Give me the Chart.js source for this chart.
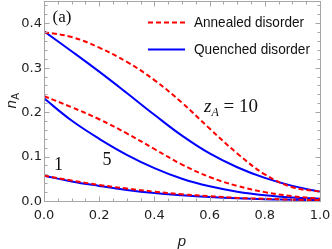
<!DOCTYPE html>
<html>
<head>
<meta charset="utf-8">
<script src="https://cdn.jsdelivr.net/npm/chart.js@4/dist/chart.umd.min.js"></script>
<style>
html,body{margin:0;padding:0;background:#fff;}
#c{display:block;}
</style>
</head>
<body>
<canvas id="c" width="332" height="249"></canvas>
<script>
// ---- data ----
const pValues   = [0, 0.1, 0.2, 0.3, 0.4, 0.5, 0.6, 0.7, 0.8, 0.9, 1.0];
const annealed10 = [0.380, 0.369, 0.345, 0.313, 0.272, 0.221, 0.163, 0.107, 0.060, 0.031, 0.021];
const quenched10 = [0.382, 0.337, 0.291, 0.243, 0.194, 0.147, 0.107, 0.076, 0.052, 0.034, 0.021];
const annealed5  = [0.236, 0.211, 0.184, 0.152, 0.117, 0.082, 0.054, 0.034, 0.020, 0.011, 0.005];
const quenched5  = [0.231, 0.181, 0.140, 0.104, 0.074, 0.050, 0.033, 0.021, 0.013, 0.008, 0.005];
const annealed1  = [0.057, 0.046, 0.036, 0.028, 0.021, 0.015, 0.011, 0.007, 0.005, 0.003, 0.002];
const quenched1  = [0.057, 0.044, 0.034, 0.025, 0.018, 0.013, 0.009, 0.006, 0.004, 0.003, 0.002];

const xMajorTicks = [0, 0.2, 0.4, 0.6, 0.8, 1.0];
const yMajorTicks = [0, 0.1, 0.2, 0.3, 0.4];
const xTickLabels = ['0.0', '0.2', '0.4', '0.6', '0.8', '1.0'];
const yTickLabels = ['0.0', '0.1', '0.2', '0.3', '0.4'];
const xMinorStep = 0.05;
const yMinorStep = 0.02;

const legendLabels = ['Annealed disorder', 'Quenched disorder'];
const curveLabels = [
  {text: '1', p: 0.0525, v: 0.081},
  {text: '5', p: 0.228, v: 0.092}
];
const zLabel = {p: 0.58, v: 0.201};

const RED = 'rgb(255,0,0)';
const BLUE = 'rgb(0,0,255)';

function pts(arr){ return pValues.map((p,i)=>({x:p, y:arr[i]})); }

function redSet(label, arr){
  return {label, data: pts(arr), borderColor: RED, backgroundColor: RED,
    borderWidth: 2, borderDash: [5,3], pointRadius: 0, tension: 0.4, fill:false};
}
function blueSet(label, arr){
  return {label, data: pts(arr), borderColor: BLUE, backgroundColor: BLUE,
    borderWidth: 2, pointRadius: 0, tension: 0.4, fill:false};
}

const framePlugin = {
  id: 'mmaFrame',
  afterDraw(chart){
    const ctx = chart.ctx;
    const a = chart.chartArea;
    const xs = chart.scales.x, ys = chart.scales.y;
    const L = a.left + 0.5, R = a.right + 0.5, T = a.top + 0.5, B = a.bottom + 0.5;
    ctx.save();
    // frame
    ctx.strokeStyle = '#a6a6a6';
    ctx.lineWidth = 1;
    ctx.strokeRect(L, T, R - L, B - T);
    // ticks
    ctx.beginPath();
    const eps = 1e-9;
    for (let v = 0; v <= 1 + eps; v += xMinorStep){
      const major = xMajorTicks.some(t => Math.abs(t - v) < 1e-6);
      const len = major ? 5 : 3;
      const px = Math.round(xs.getPixelForValue(v)) + 0.5;
      ctx.moveTo(px, B); ctx.lineTo(px, B - len);
      ctx.moveTo(px, T); ctx.lineTo(px, T + len);
    }
    for (let v = 0; v <= 0.45 + eps; v += yMinorStep){
      const major = yMajorTicks.some(t => Math.abs(t - v) < 1e-6);
      const len = major ? 5 : 3;
      const py = Math.round(ys.getPixelForValue(v)) + 0.5;
      ctx.moveTo(L, py); ctx.lineTo(L + len, py);
      ctx.moveTo(R, py); ctx.lineTo(R - len, py);
    }
    ctx.stroke();

    // tick labels
    ctx.fillStyle = '#222';
    ctx.font = '13px "DejaVu Sans"';
    ctx.textAlign = 'center';
    ctx.textBaseline = 'middle';
    xMajorTicks.forEach((v,i)=>{
      ctx.fillText(xTickLabels[i], xs.getPixelForValue(v), a.bottom + 15);
    });
    ctx.textAlign = 'right';
    yMajorTicks.forEach((v,i)=>{
      ctx.fillText(yTickLabels[i], a.left - 2, ys.getPixelForValue(v) + 0.5);
    });

    // axis titles
    ctx.fillStyle = '#222';
    ctx.textAlign = 'center';
    ctx.font = 'italic 15px "Liberation Sans"';
    ctx.fillText('p', (a.left + a.right)/2, a.bottom + 41);
    ctx.save();
    ctx.translate(12, (a.top + a.bottom)/2);
    ctx.rotate(-Math.PI/2);
    ctx.textAlign = 'left';
    ctx.font = 'italic 15px "Liberation Sans"';
    const nW = ctx.measureText('n').width;
    ctx.font = '10px "Liberation Sans"';
    const aW = ctx.measureText('A').width;
    const start = -(nW + aW)/2;
    ctx.font = 'italic 15px "Liberation Sans"';
    ctx.fillText('n', start, 0);
    ctx.font = '10px "Liberation Sans"';
    ctx.fillText('A', start + nW + 0.5, 4);
    ctx.restore();

    // panel label
    ctx.fillStyle = '#111';
    ctx.font = '17px "Liberation Serif"';
    ctx.textAlign = 'center';
    ctx.textBaseline = 'middle';
    ctx.fillText('(a)', a.left + 18, a.top + 17);

    // curve labels
    ctx.font = '18px "Liberation Serif"';
    curveLabels.forEach(c=>{
      ctx.fillText(c.text, xs.getPixelForValue(c.p), ys.getPixelForValue(c.v));
    });
    // z_A = 10
    ctx.textAlign = 'left';
    ctx.textBaseline = 'alphabetic';
    let zx = xs.getPixelForValue(zLabel.p);
    const zy = ys.getPixelForValue(zLabel.v);
    ctx.font = 'italic 19px "Liberation Serif"';
    ctx.fillText('z', zx, zy);
    zx += ctx.measureText('z').width;
    ctx.font = 'italic 12px "Liberation Serif"';
    ctx.fillText('A', zx, zy + 4);
    zx += ctx.measureText('A').width;
    ctx.font = '19px "Liberation Serif"';
    ctx.fillText(' = 10', zx, zy);

    // legend
    const legendItems = [
      {label: legendLabels[0], color: RED, dash: [5,3], y: 22.5, w: 110},
      {label: legendLabels[1], color: BLUE, dash: [], y: 49.5, w: 116}
    ];
    legendItems.forEach(it=>{
      ctx.save();
      ctx.strokeStyle = it.color;
      ctx.lineWidth = 2;
      ctx.setLineDash(it.dash);
      ctx.beginPath();
      ctx.moveTo(148, it.y); ctx.lineTo(185, it.y);
      ctx.stroke();
      ctx.restore();
      ctx.save();
      ctx.fillStyle = '#111';
      ctx.font = '15px "Liberation Sans"';
      ctx.textAlign = 'left';
      ctx.textBaseline = 'middle';
      const mw = ctx.measureText(it.label).width;
      const sx = it.w / mw;
      ctx.translate(194, it.y);
      ctx.scale(sx, 1);
      ctx.fillText(it.label, 0, 0);
      ctx.restore();
    });
    ctx.restore();
  }
};

new Chart(document.getElementById('c'), {
  type: 'line',
  data: {
    datasets: [
      redSet('Annealed disorder, zA=10', annealed10),
      redSet('Annealed disorder, zA=5', annealed5),
      redSet('Annealed disorder, zA=1', annealed1),
      blueSet('Quenched disorder, zA=10', quenched10),
      blueSet('Quenched disorder, zA=5', quenched5),
      blueSet('Quenched disorder, zA=1', quenched1)
    ]
  },
  options: {
    responsive: false,
    animation: false,
    devicePixelRatio: 1,
    layout: {padding: {top: 1, right: 12, left: 0, bottom: 0}},
    plugins: {legend: {display: false}, tooltip: {enabled: false}},
    scales: {
      x: {
        type: 'linear', min: 0, max: 1,
        grid: {display: false}, border: {display: false},
        ticks: {display: false},
        afterFit(s){ s.height = 48; }
      },
      y: {
        type: 'linear', min: 0, max: 0.45,
        grid: {display: false}, border: {display: false},
        ticks: {display: false},
        afterFit(s){ s.width = 44; }
      }
    }
  },
  plugins: [framePlugin]
});
</script>
</body>
</html>
